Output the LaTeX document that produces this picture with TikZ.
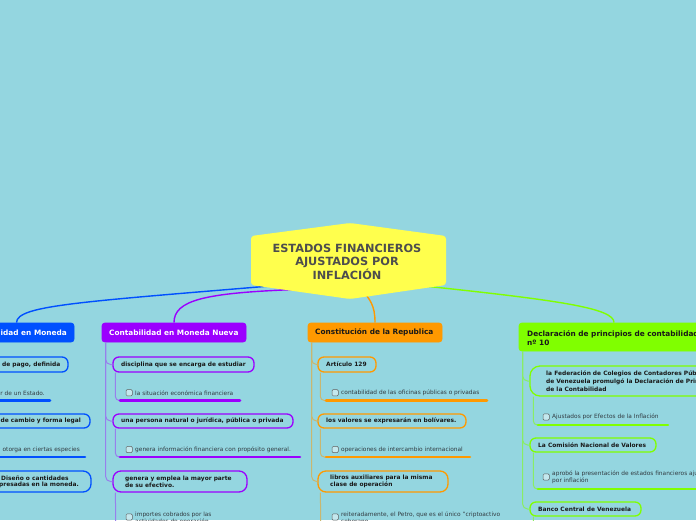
\documentclass[tikz,border=0pt]{standalone}
\usepackage{fontspec}
\setmainfont{DejaVu Sans}
\definecolor{bg}{RGB}{148,214,224}
\definecolor{cyel}{RGB}{255,255,77}
\definecolor{croot}{RGB}{77,77,77}
\definecolor{cblue}{RGB}{0,80,255}
\definecolor{cpur}{RGB}{155,0,255}
\definecolor{cora}{RGB}{255,153,0}
\definecolor{cgre}{RGB}{128,255,0}
\definecolor{ctxt}{RGB}{25,25,25}
\definecolor{cgc}{RGB}{50,60,66}
\colorlet{ptr}{cpur!40!bg}
\colorlet{otr}{cora!50!bg}
\colorlet{gtr}{cgre!55!bg}
\tikzset{
  mainbox/.style={draw=#1, fill=#1, rounded corners=3pt, line width=0.8pt, inner sep=0pt},
  childbox/.style={draw=#1, line width=1.3pt, rounded corners=6pt, inner sep=0pt},
  maintxt/.style={font=\fontsize{7.35}{9}\selectfont\bfseries, inner sep=0pt, align=left},
  childtxt/.style={font=\fontsize{5.9}{7.4}\selectfont\bfseries, text=ctxt, inner sep=0pt, align=left},
  gctxt/.style={font=\fontsize{5.85}{7}\selectfont, text=cgc, inner sep=0pt, align=left},
  chk/.style={draw=gray!75!black, fill=bg!55!white, line width=0.5pt, rounded corners=1.2pt, minimum size=6.3pt, inner sep=0pt},
  trunk/.style={draw=#1, line width=1pt, rounded corners=5pt},
  ul/.style={draw=#1, line width=2.6pt, line cap=round},
  conn/.style={draw=#1, line width=1.4pt}
}
\begin{document}
\begin{tikzpicture}[x=1pt,y=-1pt]
\useasboundingbox (0,0) rectangle (696,520);
\clip (0,0) rectangle (696,520);
\fill[bg] (0,0) rectangle (696,520);

% ---------- main boxes (placed first so connectors can use names)
\node[mainbox=cblue, minimum width=115pt, minimum height=19pt] (bmain) at (16.5,332.5) {};
\node[mainbox=cpur, minimum width=144pt, minimum height=19pt] (pmain) at (174,332.5) {};
\node[mainbox=cora, minimum width=134pt, minimum height=19pt] (omain) at (375,332.5) {};
\node[mainbox=cgre, minimum width=190pt, minimum height=28pt] (gmain) at (614,337) {};

% ---------- root
\coordinate (root) at (347,261.5);
\draw[conn=cblue] ([shift={(-47,22)}]root) .. controls (80,302) and (17,305) .. (bmain.north);
\draw[conn=cpur] ([shift={(-52,28)}]root) .. controls (205,293) and (174,300) .. (bmain.north -| pmain.north);
\draw[conn=cora] ([shift={(15,28)}]root) .. controls (370,300) and (375,305) .. (omain.north);
\draw[conn=cgre] ([shift={(53,22)}]root) .. controls (560,300) and (614,308) .. (gmain.north);
\fill[cyel, rounded corners=3pt] (251,236) -- (350,223) -- (446,236) -- (446,285) -- (350,299) -- (251,285) -- cycle;
\node[font=\fontsize{11.3}{13.5}\selectfont\bfseries, text=croot, align=center, inner sep=0pt] (roottxt) at (root) {ESTADOS FINANCIEROS\\AJUSTADOS POR\\INFLACIÓN};

% ---------- main texts
\node[maintxt, text=white, anchor=east] (bmaint) at (67,332.5) {Contabilidad en Moneda};
\node[maintxt, text=white, anchor=west] (pmaint) at (109,332.5) {Contabilidad en Moneda Nueva};
\node[maintxt, text=ctxt, anchor=west] (omaint) at (315,332.5) {Constitución de la Republica};
\node[maintxt, text=ctxt, anchor=west] (gmaint) at (527,338.5) {Declaración de principios de contabilidad\\nº 10};

% ---------- blue column (mostly off the page)
\node[childbox=cblue, minimum width=88pt, minimum height=15pt] (b1) at (24,364.5) {};
\node[childtxt, anchor=east] (b1t) at (60.5,364.5) {de pago, definida};
\node[gctxt, anchor=east] (b1g) at (45,393) {r de un Estado.};
\coordinate (b1u) at (-20,400.5); \coordinate (b1e) at (50,400.5);
\draw[ul=cblue] (b1u) -- (b1e);
\node[childbox=cblue, minimum width=110pt, minimum height=14pt] (b2) at (35,421) {};
\node[childtxt, anchor=east] (b2t) at (81,421) {de cambio y forma legal};
\node[gctxt, anchor=east] (b2g) at (80,450) {otorga en ciertas especies};
\coordinate (b2u) at (-20,457); \coordinate (b2e) at (85,457);
\draw[ul=cblue] (b2u) -- (b2e);
\node[childbox=cblue, rounded corners=8pt, minimum width=111pt, minimum height=21pt] (b3) at (35.5,481.5) {};
\node[childtxt, anchor=west] (b3t) at (1,477.8) {Diseño o cantidades};
\node[childtxt, anchor=east] (b3s) at (79,485.2) {presadas en la moneda.};

% ---------- purple column
\node[childbox=cpur, minimum width=141pt, minimum height=15pt] (p1) at (183.5,364.5) {};
\node[childbox=cpur, minimum width=180pt, minimum height=14pt] (p2) at (203,421) {};
\node[childbox=cpur, rounded corners=8pt, minimum width=134pt, minimum height=21pt] (p3) at (180,481.5) {};
\draw[trunk=ptr] ([xshift=4pt]pmain.south west) |- (p1.west);
\draw[trunk=ptr] ([xshift=4pt]pmain.south west) |- (p2.west);
\draw[trunk=ptr] ([xshift=4pt]pmain.south west) |- (p3.west);
\node[childtxt, anchor=west] (p1t) at (121,364.5) {disciplina que se encarga de estudiar};
\node[childtxt, anchor=west] (p2t) at (121,421) {una persona natural o jurídica, pública o privada};
\node[childtxt, anchor=west] (p3t) at (125,481.5) {genera y emplea la mayor parte\\de su efectivo.};
\coordinate (p1u) at (120,400.5); \coordinate (p1e) at (240,400.5);
\coordinate (p2u) at (120,457); \coordinate (p2e) at (300,457);
\coordinate (p3u) at (116,540);
\draw[trunk=ptr, rounded corners=4pt] ([xshift=3pt]p1.south west) |- (p1u);
\draw[trunk=ptr, rounded corners=4pt] ([xshift=3pt]p2.south west) |- (p2u);
\draw[trunk=ptr] ([xshift=3pt]p3.south west) -- (p3u);
\draw[ul=cpur] (p1u) -- (p1e);
\draw[ul=cpur] (p2u) -- (p2e);
\node[chk] (p1c) at (129.2,392.7) {};
\node[gctxt, anchor=west] (p1g) at (135,392.7) {la situación económica financiera};
\node[chk] (p2c) at (129.2,449.5) {};
\node[gctxt, anchor=west] (p2g) at (135,450) {genera información financiera con propósito general.};
\node[chk] (p3c) at (129.2,517) {};
\node[gctxt, anchor=west] (p3g) at (135,518) {importes cobrados por las\\actividades de operación};

% ---------- orange column
\node[childbox=cora, minimum width=58pt, minimum height=15pt] (o1) at (347,364.5) {};
\node[childbox=cora, minimum width=148pt, minimum height=14pt] (o2) at (392,421) {};
\node[childbox=cora, rounded corners=8pt, minimum width=130pt, minimum height=21pt] (o3) at (383,481.5) {};
\draw[trunk=otr] ([xshift=4pt]omain.south west) |- (o1.west);
\draw[trunk=otr] ([xshift=4pt]omain.south west) |- (o2.west);
\draw[trunk=otr] ([xshift=4pt]omain.south west) |- (o3.west);
\node[childtxt, anchor=west] (o1t) at (326,364.5) {Artículo 129};
\node[childtxt, anchor=west] (o2t) at (326,421) {los valores se expresarán en bolívares.};
\node[childtxt, anchor=west] (o3t) at (330,481.5) {libros auxiliares para la misma\\clase de operación};
\coordinate (o1u) at (326,400.5); \coordinate (o1e) at (487,400.5);
\coordinate (o2u) at (326,457); \coordinate (o2e) at (470,457);
\coordinate (o3u) at (321,540);
\draw[trunk=otr, rounded corners=4pt] ([xshift=3pt]o1.south west) |- (o1u);
\draw[trunk=otr, rounded corners=4pt] ([xshift=3pt]o2.south west) |- (o2u);
\draw[trunk=otr] ([xshift=3pt]o3.south west) -- (o3u);
\draw[ul=cora] (o1u) -- (o1e);
\draw[ul=cora] (o2u) -- (o2e);
\node[chk] (o1c) at (335.2,392.7) {};
\node[gctxt, anchor=west] (o1g) at (341,392.7) {contabilidad de las oficinas públicas o privadas};
\node[chk] (o2c) at (335.2,449.5) {};
\node[gctxt, anchor=west] (o2g) at (341,450) {operaciones de intercambio internacional};
\node[chk] (o3c) at (335.2,517) {};
\node[gctxt, anchor=west] (o3g) at (341,518) {reiteradamente, el Petro, que es el único "criptoactivo\\soberano};

% ---------- green column
\node[childbox=cgre, rounded corners=10pt, minimum width=230pt, minimum height=30pt] (g1) at (645,381) {};
\node[childbox=cgre, minimum width=126pt, minimum height=14pt] (g2) at (593,445) {};
\node[childbox=cgre, minimum width=111pt, minimum height=14pt] (g3) at (585.5,509) {};
\draw[trunk=gtr] ([xshift=4pt]gmain.south west) |- (g1.west);
\draw[trunk=gtr] ([xshift=4pt]gmain.south west) |- (g2.west);
\draw[trunk=gtr] ([xshift=4pt]gmain.south west) |- (g3.west);
\node[childtxt, anchor=west, font=\fontsize{5.9}{8}\selectfont\bfseries] (g1t) at (546,381) {la Federación de Colegios de Contadores Públicos\\de Venezuela promulgó la Declaración de Principios\\de la Contabilidad};
\node[childtxt, anchor=west] (g2t) at (538,445) {La Comisión Nacional de Valores};
\node[childtxt, anchor=west] (g3t) at (538,509) {Banco Central de Venezuela};
\coordinate (g1u) at (538,425); \coordinate (g1e) at (668,425);
\coordinate (g2u) at (538,489); \coordinate (g2e) at (760,489);
\coordinate (g3u) at (534,540);
\draw[trunk=gtr, rounded corners=4pt] ([xshift=4pt]g1.south west) |- (g1u);
\draw[trunk=gtr, rounded corners=4pt] ([xshift=4pt]g2.south west) |- (g2u);
\draw[trunk=gtr] ([xshift=4pt]g3.south west) -- (g3u);
\draw[ul=cgre] (g1u) -- (g1e);
\draw[ul=cgre] (g2u) -- (g2e);
\node[chk] (g1c) at (546.2,417) {};
\node[gctxt, anchor=west] (g1g) at (552,417) {Ajustados por Efectos de la Inflación};
\node[chk] (g2c) at (546.2,477) {};
\node[gctxt, anchor=west] (g2g) at (552,477.5) {aprobó la presentación de estados financieros ajustados\\por inflación};
\end{tikzpicture}
\end{document}
